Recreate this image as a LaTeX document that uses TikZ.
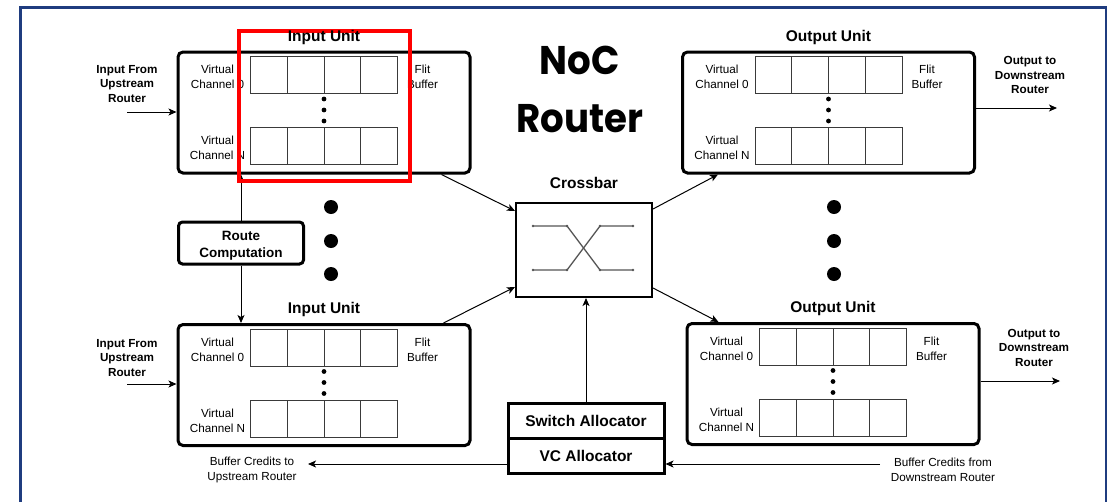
\documentclass[tikz,border=0pt]{standalone}
\usepackage{fontspec}
\setmainfont{Liberation Sans}
\newfontfamily\titlefont{Poppins}[FakeStretch=0.93]
\usetikzlibrary{arrows.meta,calc}
\definecolor{frameblue}{HTML}{1F3C7F}
\definecolor{cellgray}{HTML}{3A3A3A}
\definecolor{xgray}{HTML}{555555}
\tikzset{
  unitbox/.style={draw, line width=3pt, rounded corners=5pt, minimum width=292pt, minimum height=121pt, inner sep=0pt},
  cellbox/.style={draw=cellgray, line width=0.9pt, minimum width=36.75pt, minimum height=37pt, inner sep=0pt},
  unittitle/.style={font=\bfseries\fontsize{15.5}{18}\selectfont, inner sep=0pt},
  smalltxt/.style={font=\fontsize{11.7}{15}\selectfont, align=center, inner sep=0pt},
  boldtxt/.style={font=\bfseries\fontsize{11.7}{14.5}\selectfont, align=center, inner sep=0pt},
  arr/.style={line width=1pt, -{Stealth[length=8pt,width=7pt,inset=2pt]}},
  thickbox/.style={draw, line width=3pt, inner sep=0pt, align=center},
  xline/.style={draw=xgray, line width=1.3pt},
}
\newcommand\UnitBlock[3]{%
  \node[unitbox] (#1) at (#2,#3) {};
  \foreach \k in {0,...,3}{
    \node[cellbox] (#1-a\k) at ($(#1.north west)+(74+18.375+36.75*\k,24.5)$) {};
    \node[cellbox] (#1-b\k) at ($(#1.north west)+(74+18.375+36.75*\k,95.5)$) {};
  }
  \foreach \d in {48.5,59.5,70.5}{\fill ($(#1.north west)+(147.5,\d)$) circle (2.4pt);}
  \node[smalltxt] (#1-l0) at ($(#1.north west)+(41,26.5)$) {Virtual\\Channel 0};
  \node[smalltxt] (#1-lN) at ($(#1.north west)+(41,97.5)$) {Virtual\\Channel N};
  \node[smalltxt] (#1-fb) at ($(#1.north west)+(246,26.5)$) {Flit\\Buffer};
}
\begin{document}
\begin{tikzpicture}[x=1pt,y=-1pt]
\useasboundingbox (0,0) rectangle (1110,501);
% frame
\draw[frameblue, line width=2.2pt] (20.5,510) -- (20.5,7.5) -- (1106,7.5) -- (1106,510);

% title
\node[align=center, inner sep=0pt, font=\titlefont\bfseries\fontsize{40}{58}\selectfont] (title) at (580,89) {NoC\\Router};

% units
\UnitBlock{iu1}{324}{112.5}
\UnitBlock{iu2}{324}{385}
\UnitBlock{ou1}{828.5}{112.5}
\UnitBlock{ou2}{833}{384}
\node[unittitle] (iu2-t) at ($(iu2.north)+(0,-13.5)$) {Input Unit};
\node[unittitle] (ou1-t) at ($(ou1.north)+(0,-13.5)$) {Output Unit};
\node[unittitle] (ou2-t) at ($(ou2.north)+(0,-13.5)$) {Output Unit};

% external labels and arrows
\node[boldtxt] (inl1) at (127,84) {Input From\\Upstream\\Router};
\node[boldtxt] (inl2) at (127,358) {Input From\\Upstream\\Router};
\node[boldtxt] (outl1) at (1030,75) {Output to\\Downstream\\Router};
\node[boldtxt] (outl2) at (1034,347.5) {Output to\\Downstream\\Router};
\coordinate (in1) at (127,112);
\coordinate (in2) at (127,384);
\coordinate (o1) at (1057,108);
\coordinate (o2) at (1060,381);
\draw[arr] (in1) -- (in1 -| iu1.west);
\draw[arr] (in2) -- (in2 -| iu2.west);
\draw[arr] (o1 -| ou1.east) -- (o1);
\draw[arr] (o2 -| ou2.east) -- (o2);

% route computation
\node[thickbox, rounded corners=4pt, minimum width=125pt, minimum height=42pt] (rc) at (241,243) {};
\node[boldtxt, font=\bfseries\fontsize{13.5}{17}\selectfont] (rc-t) at (241,246) {Route\\Computation};
\draw[arr] (rc.north) -- (rc.north |- iu1.south);
\draw[arr] (rc.south) -- (rc.south |- iu2.north);

% big dots
\foreach \y in {207,241,274}{
  \fill (331,\y) circle (7pt);
  \fill (834,\y) circle (7pt);
}

% crossbar
\node[draw, line width=2pt, minimum width=136pt, minimum height=94pt, inner sep=0pt] (xbar) at (584,250) {};
\node[unittitle] (xbar-t) at (584,183) {Crossbar};
\draw[xline] ($(xbar.center)+(-51,-24)$) -- ($(xbar.center)+(-17,-24)$) -- ($(xbar.center)+(16,20)$) -- ($(xbar.center)+(49,20)$);
\draw[xline] ($(xbar.center)+(-51,20)$) -- ($(xbar.center)+(-17,20)$) -- ($(xbar.center)+(16,-24)$) -- ($(xbar.center)+(49,-24)$);
\foreach \px/\py in {-51/-24,-17/-24,16/-24,49/-24,-51/20,-17/20,16/20,49/20}{
  \fill[xgray] ($(xbar.center)+(\px,\py)$) circle (1.3pt);
}
\draw[arr] ($(iu1.south east)+(-30,0)$) -- ($(xbar.north west)+(0,9)$);
\draw[arr] ($(iu2.north east)+(-28,0)$) -- ($(xbar.south west)+(0,-11)$);
\draw[arr] ($(xbar.north east)+(0,7)$) -- ($(ou1.south west)+(37,0)$);
\draw[arr] ($(xbar.south east)+(0,-10)$) -- ($(ou2.north west)+(33,0)$);

% allocators
\node[thickbox, minimum width=156pt, minimum height=35pt, font=\bfseries\fontsize{15.5}{18}\selectfont] (sa) at (586,420.5) {Switch Allocator};
\node[thickbox, minimum width=156pt, minimum height=35pt, font=\bfseries\fontsize{15.5}{18}\selectfont] (va) at (586,455.5) {VC Allocator};
\draw[arr] (sa.north) -- (sa.north |- xbar.south);

% credits
\coordinate (cl) at (308,464);
\coordinate (cr) at (880,464);
\draw[arr] (va.west |- cl) -- (cl);
\draw[arr] (cr) -- (va.east |- cr);
\node[smalltxt] (clt) at (252,470) {Buffer Credits to\\Upstream Router};
\node[smalltxt] (crt) at (943,470) {Buffer Credits from\\Downstream Router};

% highlight
\draw[red, line width=4pt] (238.5,30.5) rectangle (409.5,181);
\node[unittitle] (iu1-t) at ($(iu1.north)+(0,-13)$) {Input Unit};
\end{tikzpicture}
\end{document}
